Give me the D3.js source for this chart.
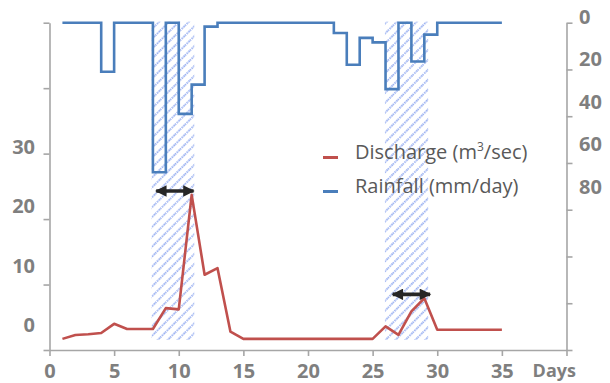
<!DOCTYPE html>
<html lang="en">
<head>
<meta charset="UTF-8">
<title>Discharge and rainfall</title>
<script src="https://d3js.org/d3.v7.min.js"></script>
<style>
    body { margin: 0; background: #fff; }
    text { font-family: "Open Sans", sans-serif; }
    .axis path, .axis line { stroke: #a6a6a6; stroke-width: 1.6px; }
    .tick-label { font-size: 20px; font-weight: bold; fill: #7f7f7f; }
    .legend-label { font-size: 20px; fill: #595959; }
</style>
</head>
<body>
<div id="chart"></div>
<script>

// days of the record
var days = d3.range(1, 36);

// discharge, m3/sec (left axis)
var discharge = [1.7, 2.3, 2.4, 2.6, 4.0, 3.2, 3.2, 3.2, 6.4, 6.2,
                 23.7, 11.5, 12.5, 2.8, 1.7, 1.7, 1.7, 1.7, 1.7, 1.7,
                 1.7, 1.7, 1.7, 1.7, 1.7, 3.6, 2.3, 5.9, 7.9, 3.1,
                 3.1, 3.1, 3.1, 3.1, 3.1];

// rainfall, mm/day (right axis, inverted)
var rainfall = [0, 0, 0, 21, 0, 0, 0, 64, 0, 39,
                26.5, 1.7, 0, 0, 0, 0, 0, 0, 0, 0,
                0, 4.4, 18, 6.5, 8.4, 28.4, 0, 16.6, 5.1, 0,
                0, 0, 0, 0, 0];

// rain periods (hatched) and lag arrows
var rainPeriods = [[7.9, 11.2], [25.95, 29.3]];
var lagStart = [8.1, 26.4];
var lagEnd = [11.3, 29.6];
var lagLevel = [24.3, 8.5];

// tick labels
var xTicks = [0, 5, 10, 15, 20, 25, 30, 35, 40];
var leftLabels = [0, 10, 20, 30];
var rightLabels = [0, 20, 40, 60, 80];

var width = 610, height = 383;

var svg = d3.select('#chart').append('svg')
    .attr('width', width)
    .attr('height', height);

var x = d3.scaleLinear().domain([0, 40]).range([49.5, 566.5]);
var yL = d3.scaleLinear().domain([0, 50]).range([350, 22.7]);
var yR = d3.scaleLinear().domain([0, 140]).range([22.7, 350]);
// the printed numbers sit off their tick marks in the original
var yLLabel = d3.scaleLinear().domain([0, 30]).range([325, 147]);
var yRLabel = d3.scaleLinear().domain([0, 80]).range([16.7, 186.7]);

// hatch pattern
var defs = svg.append('defs');
var pat = defs.append('pattern')
    .attr('id', 'hatch')
    .attr('patternUnits', 'userSpaceOnUse')
    .attr('width', 7)
    .attr('height', 7)
    .attr('patternTransform', 'rotate(45)');
pat.append('line')
    .attr('x1', 2).attr('y1', 0)
    .attr('x2', 2).attr('y2', 7)
    .attr('stroke', '#4d74e6')
    .attr('stroke-width', 1.8)
    .attr('stroke-dasharray', '1.5 1')
    .attr('opacity', 0.6);

var arrowHead = defs.append('marker')
    .attr('id', 'arrow')
    .attr('viewBox', '0 0 10 10')
    .attr('refX', 9)
    .attr('refY', 5)
    .attr('markerWidth', 3.6)
    .attr('markerHeight', 3.2)
    .attr('markerUnits', 'strokeWidth')
    .attr('orient', 'auto-start-reverse');
arrowHead.append('path')
    .attr('d', 'M0,0 L10,5 L0,10 Z')
    .attr('fill', '#262626');

svg.selectAll('rect.rain-period')
    .data(rainPeriods)
    .enter()
    .append('rect')
    .attr('class', 'rain-period')
    .attr('x', function (d) { return x(d[0]); })
    .attr('width', function (d) { return x(d[1]) - x(d[0]); })
    .attr('y', yR(0) - 1)
    .attr('height', yL(0) - yR(0) - 9)
    .attr('fill', 'url(#hatch)');

// axes
var leftAxis = d3.axisLeft(yL)
    .tickValues(d3.range(0, 51, 10))
    .tickFormat('')
    .tickSize(6)
    .tickSizeOuter(0);
svg.append('g')
    .attr('class', 'axis')
    .attr('transform', 'translate(' + x(0) + ',0)')
    .call(leftAxis);

var rightAxis = d3.axisRight(yR)
    .tickValues(d3.range(0, 141, 20))
    .tickFormat('')
    .tickSize(6)
    .tickSizeOuter(0);
svg.append('g')
    .attr('class', 'axis')
    .attr('transform', 'translate(' + x(40) + ',0)')
    .call(rightAxis);

var bottomAxis = d3.axisBottom(x)
    .tickValues(xTicks)
    .tickFormat(function (d) { return d < 40 ? d : ''; })
    .tickSize(6)
    .tickSizeOuter(0)
    .tickPadding(8);
var gx = svg.append('g')
    .attr('class', 'axis')
    .attr('transform', 'translate(0,' + yL(0) + ')')
    .call(bottomAxis);
gx.selectAll('text')
    .attr('class', 'tick-label')
    .style('font-family', '"Open Sans", sans-serif');

svg.append('text')
    .attr('class', 'tick-label')
    .attr('x', 576)
    .attr('y', 377)
    .attr('text-anchor', 'end')
    .style('font-size', '18px')
    .text('Days');

svg.selectAll('text.left-label')
    .data(leftLabels)
    .enter()
    .append('text')
    .attr('class', 'tick-label left-label')
    .attr('x', 35)
    .attr('y', function (d) { return yLLabel(d); })
    .attr('dy', '0.35em')
    .attr('text-anchor', 'end')
    .text(function (d) { return d; });

svg.selectAll('text.right-label')
    .data(rightLabels)
    .enter()
    .append('text')
    .attr('class', 'tick-label right-label')
    .attr('x', 579)
    .attr('y', function (d) { return yRLabel(d); })
    .attr('dy', '0.35em')
    .text(function (d) { return d; });

// rainfall step line
var rainLine = d3.line()
    .x(function (d, i) { return x(days[i]); })
    .y(function (d) { return yR(d); })
    .curve(d3.curveStepAfter);
svg.append('path')
    .datum(rainfall)
    .attr('d', rainLine)
    .attr('fill', 'none')
    .attr('stroke', '#4a7ebb')
    .attr('stroke-width', 2.6);

// discharge line
var dischargeLine = d3.line()
    .x(function (d, i) { return x(days[i]); })
    .y(function (d) { return yL(d); });
svg.append('path')
    .datum(discharge)
    .attr('d', dischargeLine)
    .attr('fill', 'none')
    .attr('stroke', '#c0504d')
    .attr('stroke-width', 2.6)
    .attr('stroke-linejoin', 'round');

// lag arrows
svg.selectAll('line.lag')
    .data(lagStart)
    .enter()
    .append('line')
    .attr('class', 'lag')
    .attr('x1', function (d) { return x(d) + 2; })
    .attr('x2', function (d, i) { return x(lagEnd[i]) - 2; })
    .attr('y1', function (d, i) { return yL(lagLevel[i]); })
    .attr('y2', function (d, i) { return yL(lagLevel[i]); })
    .attr('stroke', '#262626')
    .attr('stroke-width', 3.6)
    .attr('marker-start', 'url(#arrow)')
    .attr('marker-end', 'url(#arrow)');

// legend
var legendItems = ['Discharge', 'Rainfall'];
var legendColors = ['#c0504d', '#4a7ebb'];
var legend = svg.selectAll('g.legend')
    .data(legendItems)
    .enter()
    .append('g')
    .attr('class', 'legend')
    .attr('transform', function (d, i) { return 'translate(323,' + (157.5 + i * 34) + ')'; });
legend.append('line')
    .attr('x1', 0).attr('x2', 15)
    .attr('y1', 0).attr('y2', 0)
    .attr('stroke', function (d, i) { return legendColors[i]; })
    .attr('stroke-width', 3);
var lt = legend.append('text')
    .attr('class', 'legend-label')
    .attr('x', 32)
    .attr('y', 1);
lt.filter(function (d) { return d === 'Discharge'; })
    .each(function () {
        var t = d3.select(this);
        t.append('tspan').text('Discharge (m');
        t.append('tspan').attr('dy', -8).style('font-size', '12px').text('3');
        t.append('tspan').attr('dy', 8).text('/sec)');
    });
lt.filter(function (d) { return d === 'Rainfall'; })
    .text('Rainfall (mm/day)');

</script>
</body>
</html>
